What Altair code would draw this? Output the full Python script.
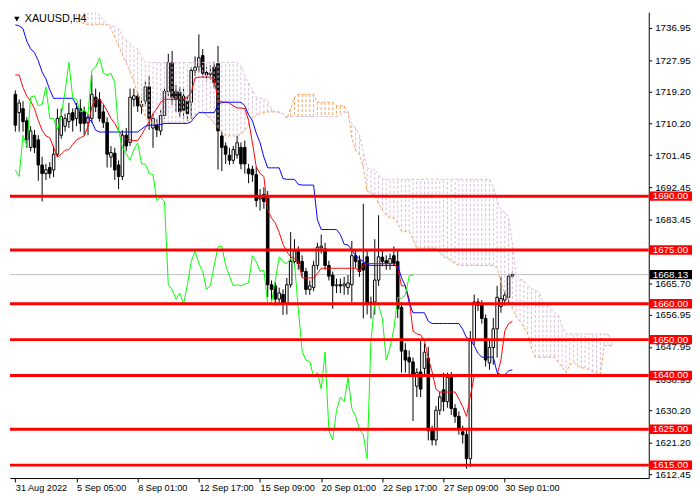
import altair as alt
import pandas as pd

# ---- axis texts ----
x_tick_bars = [0, 16, 32, 48, 64, 80, 96, 112, 128]
x_tick_labels = ["31 Aug 2022", "5 Sep 05:00", "8 Sep 01:00", "12 Sep 17:00", "15 Sep 09:00",
                 "20 Sep 01:00", "22 Sep 17:00", "27 Sep 09:00", "30 Sep 01:00"]
price_ticks = [1736.95, 1727.95, 1719.20, 1710.20, 1701.45, 1692.45, 1683.45,
               1665.70, 1656.95, 1647.95, 1638.95, 1630.20, 1621.20, 1612.45]
levels = [1690, 1675, 1660, 1650, 1640, 1625, 1615]
last_price = 1668.13

# ---- XAUUSD H4 candles ----
opens = [
    1718.4, 1713.3, 1714.4, 1711.0, 1703.6, 1707.0, 1705.7, 1698.7, 1696.3, 1698.0,
    1697.3, 1701.7, 1707.0, 1709.5, 1710.8, 1713.3, 1711.7, 1714.4, 1713.5, 1710.5,
    1711.7, 1717.6, 1717.0, 1713.5, 1710.5, 1700.9, 1702.0, 1698.7, 1695.5, 1707.0,
    1705.0, 1717.0, 1717.9, 1715.0, 1716.5, 1720.5, 1709.0, 1710.0, 1708.2, 1712.5,
    1719.2, 1727.3, 1719.2, 1719.0, 1717.9, 1716.5, 1716.2, 1725.0, 1726.0, 1729.2,
    1724.5, 1724.0, 1726.0, 1727.0, 1706.8, 1704.0, 1701.4, 1700.0, 1701.5, 1703.6,
    1703.6, 1697.6, 1697.5, 1696.0, 1689.2, 1690.5, 1689.5, 1665.3, 1665.0, 1661.3,
    1662.6, 1659.9, 1665.3, 1671.8, 1674.7, 1671.8, 1669.0, 1664.0, 1664.5, 1670.7,
    1675.6, 1675.3, 1670.7, 1668.0, 1665.0, 1665.3, 1665.0, 1664.5, 1665.3, 1673.4,
    1672.0, 1671.2, 1673.1, 1659.9, 1660.5, 1666.6, 1673.0, 1672.0, 1671.2, 1673.4,
    1671.8, 1659.0, 1647.0, 1645.0, 1643.8, 1637.0, 1641.0, 1642.0, 1644.8, 1624.6,
    1622.0, 1630.3, 1636.0, 1632.7, 1639.5, 1630.8, 1628.6, 1624.3, 1623.5, 1616.8,
    1649.7, 1660.5, 1660.0, 1655.9, 1643.5, 1647.8, 1653.0, 1659.2, 1661.0, 1661.8,
    1667.7,
]
highs = [
    1719.5, 1717.0, 1716.5, 1712.0, 1709.5, 1708.5, 1707.0, 1701.0, 1699.0, 1699.5,
    1704.0, 1714.4, 1714.4, 1713.0, 1716.0, 1714.5, 1716.0, 1717.0, 1715.0, 1713.0,
    1723.8, 1720.0, 1719.0, 1715.5, 1712.0, 1704.0, 1703.5, 1700.0, 1708.4, 1709.0,
    1720.0, 1720.0, 1719.0, 1717.5, 1722.0, 1723.5, 1713.0, 1711.5, 1714.0, 1720.5,
    1729.7, 1730.5, 1721.0, 1720.5, 1720.0, 1718.0, 1726.0, 1729.0, 1735.1, 1731.0,
    1726.0, 1726.5, 1727.5, 1731.9, 1708.0, 1705.0, 1703.5, 1704.0, 1706.8, 1705.0,
    1705.5, 1699.0, 1698.5, 1698.2, 1692.0, 1692.5, 1691.5, 1666.5, 1666.0, 1664.5,
    1664.0, 1667.2, 1680.0, 1678.0, 1676.0, 1673.5, 1670.0, 1666.5, 1672.0, 1677.0,
    1679.3, 1677.0, 1672.0, 1669.0, 1667.0, 1667.0, 1667.5, 1668.0, 1677.5, 1675.0,
    1673.5, 1687.9, 1675.0, 1662.0, 1678.0, 1684.7, 1675.0, 1673.5, 1674.0, 1676.0,
    1674.7, 1660.5, 1649.0, 1647.0, 1645.0, 1642.0, 1649.7, 1648.9, 1648.0, 1626.0,
    1631.5, 1635.5, 1640.8, 1640.8, 1641.0, 1632.0, 1630.0, 1626.0, 1625.0, 1652.4,
    1662.6, 1661.5, 1661.0, 1657.0, 1650.0, 1656.0, 1665.0, 1667.5, 1663.5, 1668.5,
    1669.0,
]
lows = [
    1708.0, 1708.0, 1708.0, 1703.5, 1702.5, 1702.0, 1694.3, 1688.5, 1694.5, 1695.0,
    1695.3, 1701.0, 1706.0, 1708.0, 1709.0, 1708.0, 1709.5, 1708.0, 1707.0, 1707.0,
    1710.5, 1713.5, 1710.8, 1709.0, 1698.0, 1698.0, 1694.5, 1692.0, 1694.5, 1702.5,
    1704.0, 1715.0, 1713.5, 1713.0, 1715.0, 1708.5, 1703.5, 1706.5, 1707.0, 1711.5,
    1718.0, 1715.5, 1713.5, 1712.0, 1711.5, 1711.0, 1711.5, 1723.5, 1724.5, 1723.0,
    1722.0, 1722.5, 1720.0, 1697.4, 1697.0, 1699.0, 1698.7, 1699.0, 1700.5, 1697.5,
    1696.3, 1693.6, 1694.0, 1687.0, 1686.0, 1686.5, 1661.8, 1661.0, 1659.5, 1660.0,
    1656.9, 1657.0, 1664.5, 1671.0, 1669.5, 1667.5, 1662.5, 1662.5, 1663.5, 1669.5,
    1674.0, 1669.5, 1666.5, 1658.6, 1663.0, 1663.0, 1662.5, 1662.5, 1660.5, 1670.0,
    1667.5, 1655.9, 1657.0, 1655.9, 1657.0, 1665.0, 1670.5, 1669.5, 1669.5, 1670.5,
    1656.0, 1640.8, 1640.8, 1639.7, 1627.3, 1634.0, 1634.0, 1640.0, 1621.9, 1620.5,
    1620.5, 1629.0, 1630.0, 1631.0, 1629.0, 1626.8, 1623.5, 1621.0, 1614.0, 1614.5,
    1648.5, 1658.0, 1654.5, 1642.5, 1641.6, 1643.0, 1645.0, 1657.5, 1659.5, 1660.0,
    1667.0,
]
closes = [
    1709.8, 1716.0, 1710.8, 1705.7, 1708.2, 1703.6, 1698.7, 1696.3, 1697.4, 1696.3,
    1701.7, 1711.7, 1712.2, 1711.7, 1713.0, 1711.2, 1714.4, 1710.3, 1710.3, 1712.0,
    1718.4, 1714.9, 1711.7, 1710.5, 1701.7, 1702.2, 1697.3, 1695.5, 1707.0, 1704.0,
    1717.6, 1718.0, 1715.2, 1715.6, 1720.5, 1711.7, 1711.7, 1708.5, 1712.5, 1719.2,
    1727.3, 1717.5, 1717.0, 1713.5, 1714.0, 1713.0, 1725.1, 1726.0, 1728.6, 1724.3,
    1723.8, 1724.3, 1721.6, 1708.2, 1703.6, 1701.7, 1700.0, 1703.0, 1704.9, 1699.0,
    1699.0, 1696.3, 1696.0, 1688.8, 1689.6, 1688.5, 1665.3, 1664.0, 1661.3, 1663.0,
    1659.9, 1665.3, 1671.8, 1674.7, 1671.2, 1669.0, 1664.0, 1665.0, 1670.7, 1675.8,
    1676.1, 1670.7, 1667.7, 1665.0, 1665.3, 1665.0, 1665.5, 1665.8, 1673.4, 1671.8,
    1669.0, 1669.4, 1659.9, 1660.4, 1666.6, 1673.1, 1671.8, 1671.2, 1672.6, 1671.2,
    1658.6, 1646.8, 1644.3, 1643.8, 1639.7, 1640.8, 1636.2, 1646.5, 1624.6, 1622.0,
    1630.3, 1634.0, 1632.7, 1639.5, 1630.8, 1628.6, 1624.9, 1623.5, 1616.8, 1649.7,
    1660.5, 1659.6, 1655.9, 1644.3, 1647.8, 1653.0, 1661.8, 1661.5, 1662.4, 1667.7,
    1668.13,
]

# ---- Ichimoku lines ----
tenkan = [
    1723.8, 1723.8, 1720.3, 1717.9, 1716.5, 1714.4, 1711.1, 1708.4, 1706.8, 1706.3,
    1703.6, 1700.9, 1701.7, 1702.8, 1703.0, 1704.4, 1705.7, 1706.3, 1706.8, 1709.5,
    1714.9, 1717.0, 1717.0, 1715.7, 1713.8, 1711.7, 1710.3, 1708.2, 1706.8, 1706.0,
    1705.7, 1705.5, 1705.5, 1707.1, 1709.0, 1710.8, 1713.0, 1714.4, 1716.2, 1717.0,
    1717.0, 1717.0, 1717.0, 1717.0, 1717.0, 1717.6, 1718.9, 1723.0, 1723.2, 1723.2,
    1723.2, 1723.2, 1722.4, 1717.0, 1716.2, 1716.2, 1716.0, 1715.2, 1714.6, 1714.6,
    1714.4, 1711.1, 1704.9, 1698.2, 1696.3, 1695.5, 1686.1, 1683.9, 1682.5, 1679.9,
    1676.6, 1674.5, 1673.1, 1672.6, 1671.8, 1667.2, 1667.2, 1667.2, 1667.2, 1668.5,
    1669.9, 1669.9, 1669.9, 1669.9, 1669.9, 1669.9, 1669.9, 1669.9, 1669.9, 1669.9,
    1669.1, 1670.7, 1671.2, 1671.2, 1671.2, 1671.2, 1671.2, 1671.2, 1671.2, 1671.2,
    1669.9, 1665.0, 1665.0, 1661.3, 1652.4, 1651.6, 1651.3, 1649.7, 1644.8, 1641.0,
    1636.2, 1635.4, 1635.4, 1635.4, 1635.4, 1635.4, 1633.5, 1631.3, 1628.6, 1634.3,
    1639.7, 1640.2, 1640.2, 1640.2, 1640.2, 1640.2, 1640.2, 1644.3, 1652.4, 1654.5,
    1655.1,
]
kijun = [
    1737.8, 1737.5, 1736.7, 1733.2, 1731.1, 1730.0, 1727.8, 1724.6, 1722.7, 1719.7,
    1717.3, 1717.3, 1717.3, 1717.3, 1717.3, 1717.3, 1715.2, 1713.5, 1712.5, 1711.7,
    1710.8, 1708.4, 1707.9, 1707.9, 1707.9, 1707.9, 1707.9, 1707.9, 1707.9, 1707.9,
    1707.9, 1707.9, 1707.9, 1708.7, 1709.5, 1709.8, 1709.8, 1709.8, 1710.0, 1710.3,
    1710.3, 1710.3, 1710.3, 1710.3, 1710.3, 1710.3, 1710.8, 1712.2, 1713.3, 1713.3,
    1713.3, 1713.3, 1713.3, 1715.4, 1716.2, 1716.2, 1716.2, 1716.2, 1716.2, 1716.2,
    1715.2, 1712.7, 1711.1, 1707.6, 1704.9, 1700.9, 1697.9, 1697.9, 1697.9, 1697.9,
    1694.9, 1694.7, 1694.7, 1694.7, 1693.3, 1693.1, 1693.1, 1693.1, 1693.1, 1683.4,
    1680.7, 1680.7, 1680.7, 1680.7, 1680.7, 1679.3, 1676.6, 1676.4, 1675.0, 1673.4,
    1672.6, 1671.8, 1671.0, 1670.7, 1670.7, 1670.7, 1670.7, 1670.7, 1670.7, 1670.7,
    1670.7, 1667.2, 1665.0, 1660.4, 1657.5, 1657.5, 1657.5, 1657.5, 1655.1, 1654.5,
    1654.5, 1654.5, 1654.5, 1654.5, 1654.5, 1654.5, 1654.5, 1652.9, 1650.5, 1650.2,
    1648.3, 1646.2, 1645.1, 1645.1, 1645.1, 1645.1, 1640.8, 1640.2, 1640.2, 1641.3,
    1641.6,
]
span_first_bar = 16
span_a = [
    1738.6, 1738.6, 1738.1, 1737.8, 1737.8, 1737.8, 1737.8, 1737.8, 1737.8, 1736.7,
    1734.3, 1731.9, 1729.4, 1727.3, 1724.6, 1721.9, 1718.4, 1715.2, 1712.2, 1710.8,
    1710.3, 1710.0, 1709.8, 1710.3, 1710.3, 1710.3, 1710.3, 1710.3, 1710.3, 1710.8,
    1711.7, 1712.5, 1713.3, 1713.5, 1712.5, 1711.7, 1710.3, 1709.2, 1707.9, 1706.8,
    1706.8, 1706.8, 1706.8, 1707.3, 1708.4, 1709.8, 1711.7, 1712.5, 1713.0, 1713.3,
    1713.5, 1713.5, 1713.5, 1713.5, 1713.0, 1711.7, 1714.4, 1717.6, 1718.4, 1718.4,
    1718.4, 1718.4, 1718.4, 1716.2, 1716.2, 1716.2, 1716.2, 1716.2, 1715.2, 1715.2,
    1715.2, 1713.5, 1706.3, 1702.8, 1701.7, 1698.2, 1691.4, 1690.9, 1690.4, 1687.9,
    1686.1, 1684.7, 1683.9, 1683.9, 1682.5, 1680.1, 1680.1, 1680.1, 1678.0, 1675.5,
    1675.5, 1675.5, 1675.5, 1675.5, 1675.5, 1674.2, 1673.1, 1672.6, 1672.0, 1671.2,
    1670.7, 1670.7, 1670.7, 1670.7, 1670.7, 1670.7, 1670.7, 1670.7, 1670.7, 1670.7,
    1669.9, 1665.8, 1663.1, 1661.0, 1658.6, 1656.4, 1655.1, 1653.4, 1651.6, 1647.5,
    1645.1, 1645.1, 1645.1, 1645.1, 1645.1, 1645.1, 1643.7, 1642.4, 1640.8, 1642.9,
    1643.7, 1642.7, 1642.1, 1642.1, 1641.6, 1641.0, 1640.8, 1640.2, 1648.3, 1648.3,
    1648.3,
]
span_b = [
    1744.0, 1744.0, 1743.5, 1742.6, 1742.1, 1741.3, 1740.5, 1739.1, 1738.1, 1737.5,
    1737.3, 1736.7, 1734.8, 1733.5, 1732.7, 1731.3, 1731.1, 1728.9, 1727.3, 1727.3,
    1727.3, 1727.3, 1727.3, 1727.3, 1727.3, 1727.3, 1727.3, 1727.3, 1727.3, 1727.3,
    1727.3, 1727.3, 1727.3, 1727.3, 1727.3, 1727.3, 1727.3, 1727.3, 1727.3, 1727.3,
    1727.3, 1727.3, 1727.3, 1726.5, 1723.5, 1721.6, 1719.7, 1717.6, 1717.3, 1717.3,
    1716.5, 1714.4, 1713.5, 1713.3, 1713.0, 1712.2, 1712.2, 1712.2, 1712.2, 1712.2,
    1712.2, 1712.2, 1712.2, 1712.2, 1712.2, 1712.2, 1712.2, 1712.2, 1712.2, 1712.5,
    1713.3, 1713.5, 1710.3, 1709.0, 1707.1, 1702.2, 1697.9, 1697.6, 1697.4, 1696.0,
    1694.7, 1694.7, 1694.7, 1694.7, 1694.7, 1694.7, 1694.7, 1694.7, 1694.7, 1694.7,
    1694.7, 1694.7, 1694.7, 1694.7, 1694.7, 1694.7, 1694.7, 1694.7, 1694.7, 1694.7,
    1694.7, 1694.7, 1694.7, 1694.7, 1694.7, 1694.7, 1694.7, 1694.7, 1694.7, 1692.8,
    1688.7, 1686.1, 1685.5, 1684.2, 1676.6, 1667.5, 1666.9, 1666.4, 1665.0, 1664.2,
    1663.7, 1663.1, 1660.5, 1659.6, 1658.8, 1657.5, 1656.9, 1653.7, 1651.6, 1651.6,
    1651.6, 1651.6, 1651.6, 1651.6, 1651.6, 1651.6, 1651.6, 1651.6, 1651.6, 1651.6,
    1649.7,
]
chikou_shift = 26

W, H = 650, 474
FONT = "Liberation Sans"

candles = pd.DataFrame({"bar": range(len(closes)), "open": opens, "high": highs,
                        "low": lows, "close": closes})
lines = pd.DataFrame({"bar": range(len(closes)), "tenkan": tenkan, "kijun": kijun})
chikou = pd.DataFrame({"bar": range(len(closes) - chikou_shift), "chikou": closes[chikou_shift:]})
cloud = pd.DataFrame({"bar": range(span_first_bar, span_first_bar + len(span_a)),
                      "a": span_a, "b": span_b})
cloud["kind"] = ["up" if a >= b else "down" for a, b in zip(span_a, span_b)]
lv = pd.DataFrame({"level": levels, "label": [f"{v:.2f}" for v in levels]})
lv["top"] = lv["level"] + 1.3
lv["bot"] = lv["level"] - 1.3
lp = pd.DataFrame({"level": [last_price], "label": [f"{last_price:.2f}"]})
lp["top"] = lp["level"] + 1.3
lp["bot"] = lp["level"] - 1.3
title_df = pd.DataFrame({"t": ["XAUUSD,H4"]})

labels_js = "[" + ",".join(f"'{s}'" for s in x_tick_labels) + "]"
x_scale = alt.Scale(domain=[-0.125, 164.375], nice=False, zero=False)
y_scale = alt.Scale(domain=[1611.4, 1741.3], nice=False, zero=False)
x_axis = alt.Axis(values=x_tick_bars, labelExpr=f"{labels_js}[round(datum.value / 16)]",
                  labelAlign="left", labelFlush=False, labelOverlap=False, grid=False,
                  tickSize=4, tickColor="black", domainColor="black", labelPadding=2,
                  labelFont=FONT, labelFontSize=9.3, labelColor="black")
y_axis = alt.Axis(values=price_ticks, format=".2f", orient="right", grid=False,
                  tickSize=3, tickColor="black", domainColor="black", labelPadding=3,
                  labelFont=FONT, labelFontSize=10, labelColor="black",
                  labelOverlap=False, labelFlush=False)


def X(field="bar"):
    return alt.X(f"{field}:Q", scale=x_scale, axis=x_axis, title=None)


def Y(field):
    return alt.Y(f"{field}:Q", scale=y_scale, axis=y_axis, title=None)


price_line = alt.Chart(lp).mark_rule(color="#C0C0C0", strokeWidth=1).encode(y=Y("level"))

wicks = alt.Chart(candles).mark_rule(color="black", strokeWidth=1).encode(
    x=X(), y=Y("low"), y2="high:Q")
bodies = alt.Chart(candles).mark_bar(size=2.6, stroke="black", strokeWidth=1).encode(
    x=X(), y=Y("open"), y2="close:Q",
    fill=alt.condition("datum.close >= datum.open", alt.value("white"), alt.value("black")))

hatch = alt.Chart(cloud).mark_rule(strokeDash=[3, 2], strokeWidth=1, clip=True).encode(
    x=X(), y=Y("a"), y2="b:Q",
    color=alt.Color("kind:N", scale=alt.Scale(domain=["down", "up"], range=["#D8BFD8", "#F4A460"]),
                    legend=None))
span_a_line = alt.Chart(cloud).mark_line(color="#F4A460", strokeDash=[3, 2], strokeWidth=1,
                                         clip=True).encode(x=X(), y=Y("a"))
span_b_line = alt.Chart(cloud).mark_line(color="#D8BFD8", strokeDash=[3, 2], strokeWidth=1,
                                         clip=True).encode(x=X(), y=Y("b"))
tenkan_line = alt.Chart(lines).mark_line(color="#FF0000", strokeWidth=1, clip=True).encode(
    x=X(), y=Y("tenkan"))
kijun_line = alt.Chart(lines).mark_line(color="#0000FF", strokeWidth=1, clip=True).encode(
    x=X(), y=Y("kijun"))
chikou_line = alt.Chart(chikou).mark_line(color="#00FF00", strokeWidth=1, clip=True).encode(
    x=X(), y=Y("chikou"))

level_lines = alt.Chart(lv).mark_rule(color="#FF0000", strokeWidth=3).encode(y=Y("level"))
level_boxes = alt.Chart(lv).mark_rect(color="#FF0000").encode(
    x=alt.value(W + 1), x2=alt.value(W + 44), y=Y("top"), y2="bot:Q")
level_text = alt.Chart(lv).mark_text(align="left", baseline="middle", color="white",
                                     font=FONT, fontSize=10).encode(
    x=alt.value(W + 4), y=Y("level"), text="label:N")
last_box = alt.Chart(lp).mark_rect(color="black").encode(
    x=alt.value(W + 1), x2=alt.value(W + 44), y=Y("top"), y2="bot:Q")
last_text = alt.Chart(lp).mark_text(align="left", baseline="middle", color="white",
                                    font=FONT, fontSize=10).encode(
    x=alt.value(W + 4), y=Y("level"), text="label:N")

tri = alt.Chart(title_df).mark_point(shape="triangle-down", filled=True, size=30,
                                     color="black", opacity=1).encode(
    x=alt.value(7), y=alt.value(7))
title = alt.Chart(title_df).mark_text(align="left", baseline="middle", color="black",
                                      font=FONT, fontSize=11).encode(
    x=alt.value(15), y=alt.value(7), text="t:N")

chart = alt.layer(
    price_line, wicks, bodies, hatch, span_a_line, span_b_line,
    tenkan_line, kijun_line, chikou_line, level_lines,
    level_boxes, level_text, last_box, last_text, tri, title,
).properties(
    width=W, height=H, background="white",
    padding={"left": 0, "top": 0, "right": 0, "bottom": 0},
).configure_view(stroke=None)

chart.save("out.html", embed_options={"renderer": "svg", "actions": False})
